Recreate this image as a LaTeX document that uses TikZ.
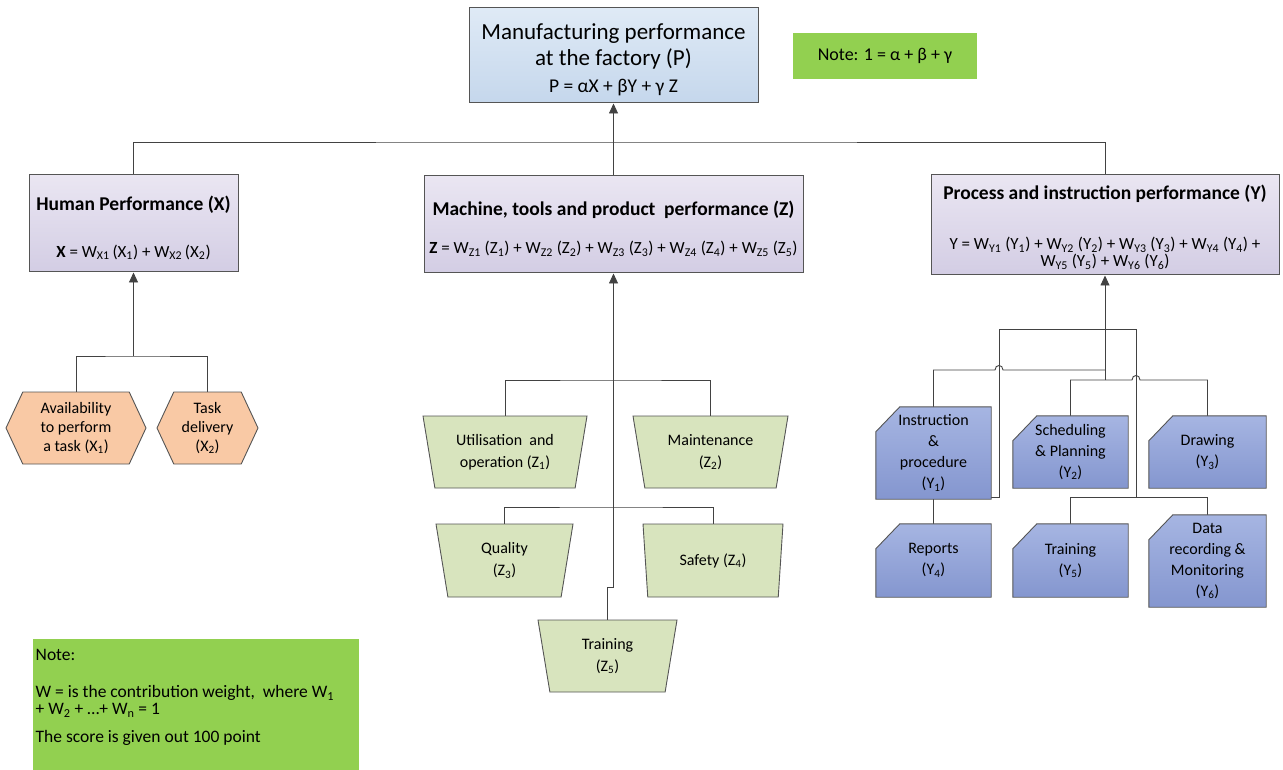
\documentclass[tikz,border=0pt]{standalone}
\usepackage{fontspec}
\setmainfont{Carlito}
\usetikzlibrary{shapes.geometric,shapes.symbols,arrows.meta,backgrounds}
\newcommand\sbs[1]{\textsubscript{#1}}
\newcommand\ttl[2][23pt]{\rule{0pt}{#1}{\fontsize{19.5}{17}\selectfont\bfseries #2}}
\definecolor{linegray}{RGB}{66,66,66}
\definecolor{edgegray}{RGB}{85,85,85}
\definecolor{ptop}{RGB}{223,234,246}
\definecolor{pbot}{RGB}{197,215,236}
\definecolor{ltop}{RGB}{234,230,242}
\definecolor{lbot}{RGB}{211,205,228}
\definecolor{notegreen}{RGB}{146,208,80}
\definecolor{hexfill}{RGB}{249,201,165}
\definecolor{trapfill}{RGB}{216,228,190}
\definecolor{ytop}{RGB}{166,181,226}
\definecolor{ybot}{RGB}{132,150,207}
\begin{document}
\begin{tikzpicture}[x=1pt,y=-1pt,
  line/.style={draw=linegray,line width=0.9pt},
  arr/.style={line,-{Triangle[length=10pt,width=9pt]}},
  pbox/.style={rectangle,draw=edgegray,line width=1pt,top color=ptop,bottom color=pbot,
    minimum width=289pt,minimum height=95pt,inner sep=0pt,align=center,
    font=\fontsize{19.5}{26}\selectfont},
  catbox/.style={rectangle,draw=edgegray,line width=1pt,top color=ltop,bottom color=lbot,
    inner sep=0pt,align=center,font=\fontsize{17}{17}\selectfont},
  notebox/.style={rectangle,fill=notegreen,inner sep=0pt},
  hexa/.style={signal,signal to=west and east,signal pointer angle=130,draw=edgegray,
    line width=0.9pt,fill=hexfill,minimum height=72pt,inner sep=0pt,align=center,
    font=\fontsize{16}{19}\selectfont},
  trap/.style={trapezium,shape border rotate=180,trapezium stretches body=true,
    trapezium left angle=71.6,trapezium right angle=71.6,draw=edgegray,line width=0.9pt,
    fill=trapfill,minimum height=72pt,inner sep=0pt,align=center,
    font=\fontsize{16}{22}\selectfont},
  yslot/.style={rectangle,inner sep=0pt,align=center,font=\fontsize{16}{21}\selectfont},
  yshape/.style={draw=edgegray,line width=0.9pt,top color=ytop,bottom color=ybot},
]
\useasboundingbox (0,0) rectangle (1283,770);

% top level
\node[pbox] (p) at (613.5,55.5)
  {\rule{0pt}{24pt}{\fontsize{23}{26}\selectfont Manufacturing performance}\\
   {\fontsize{23}{26}\selectfont at the factory (P)}\\[1pt]
   P = αX + βY + γ Z};
\node[notebox,minimum width=184pt,minimum height=46pt,font=\fontsize{18}{20}\selectfont]
  (n1) at (885,56) {Note: 1 = α + β + γ};

% the three performance groups
\node[catbox,minimum width=209pt,minimum height=97pt] (hx) at (133.5,223.5)
  {\ttl{Human Performance (X)}\\[30pt]
   \textbf{X} = W\sbs{X1}\,(X\sbs{1}) + W\sbs{X2}\,(X\sbs{2})};
\node[catbox,minimum width=379pt,minimum height=97pt] (hz) at (613.5,224.5)
  {\ttl{Machine, tools and product\ \ performance (Z)}\\[21pt]
   \textbf{Z} = W\sbs{Z1} (Z\sbs{1}) + W\sbs{Z2} (Z\sbs{2}) + W\sbs{Z3} (Z\sbs{3}) + W\sbs{Z4} (Z\sbs{4}) + W\sbs{Z5} (Z\sbs{5})};
\node[catbox,minimum width=348pt,minimum height=100pt] (hy) at (1105,225)
  {\ttl[18.5pt]{Process and instruction performance (Y)}\\[33.5pt]
   Y = W\sbs{Y1} (Y\sbs{1}) + W\sbs{Y2} (Y\sbs{2}) + W\sbs{Y3} (Y\sbs{3}) + W\sbs{Y4} (Y\sbs{4}) +\\
   W\sbs{Y5} (Y\sbs{5}) + W\sbs{Y6} (Y\sbs{6})};

% human factors
\node[hexa,minimum width=140pt] (x1) at (76,428) {Availability\\to perform\\a task (X\sbs{1})};
\node[hexa,minimum width=101pt] (x2) at (207.5,428) {Task\\delivery\\(X\sbs{2})};

% machine factors
\node[trap,minimum width=164pt] (z1) at (505,452) {Utilisation\ \ and\\operation (Z\sbs{1})};
\node[trap,minimum width=155pt] (z2) at (710.5,452) {Maintenance\\(Z\sbs{2})};
\node[trap,minimum width=137pt,minimum height=73pt] (z3) at (504.5,560.5) {Quality\\(Z\sbs{3})};
\node[trap,minimum width=140pt,minimum height=73pt] (z4) at (713,560.5) {Safety (Z\sbs{4})};
\node[trap,minimum width=139pt] (z5) at (607.5,656) {Training\\(Z\sbs{5})};

% process factors
\node[yslot,minimum width=115pt,minimum height=92pt] (y1) at (933.5,453) {Instruction\\\&\\procedure\\(Y\sbs{1})};
\node[yslot,minimum width=115pt,minimum height=72pt] (y2) at (1070.5,452) {Scheduling\\\& Planning\\(Y\sbs{2})};
\node[yslot,minimum width=117pt,minimum height=72pt] (y3) at (1207.5,452) {Drawing\\(Y\sbs{3})};
\node[yslot,minimum width=115pt,minimum height=73pt] (y4) at (933.5,560.5) {Reports\\(Y\sbs{4})};
\node[yslot,minimum width=115pt,minimum height=73pt] (y5) at (1070.5,560.5) {Training\\(Y\sbs{5})};
\node[yslot,minimum width=117pt,minimum height=92pt] (y6) at (1207.5,561) {Data\\recording \&\\Monitoring\\(Y\sbs{6})};

% explanatory note
\node[notebox,anchor=north west,minimum width=326pt,minimum height=132pt] (n2) at (33,639) {};
\node[anchor=north west,inner sep=0pt,align=left,font=\fontsize{17.5}{17.3}\selectfont]
  (n2t) at (35.5,649)
  {Note:\\[19.7pt]
   W = is the contribution weight,\ \ where W\sbs{1}\\
   + W\sbs{2} + …+ W\sbs{n} = 1\\[10.7pt]
   The score is given out 100 point};

% junction points
\coordinate (pb) at (613.5,142);
\coordinate (xb) at (133.5,356);
\coordinate (zb1) at (613.5,380);
\coordinate (zb2) at (613.5,507);
\coordinate (zj) at (613.5,587);
\coordinate (yt) at (1105,380);
\coordinate (ya1) at (999,329);
\coordinate (ya2) at (1136,329);
\coordinate (yh1) at (995,370);
\coordinate (yh1e) at (1003,370);
\coordinate (yt1) at (1105,370);
\coordinate (yh2) at (1132,380);
\coordinate (yh2e) at (1140,380);
\coordinate (yc4) at (999,497.5);
\coordinate (yb) at (1136,497.5);

\begin{pgfonlayer}{background}
  % overall performance
  \draw[line] (hx.north) |- (pb) -| (hy.north);
  \draw[line] (hz.north) -- (pb);
  \draw[arr] (pb) -- (p.south);
  % human
  \draw[line] (x1.north) |- (xb) -| (x2.north);
  \draw[arr] (xb) -- (hx.south);
  % machine
  \draw[line] (z1.north) |- (zb1) -| (z2.north);
  \draw[line] (z3.north) |- (zb2) -| (z4.north);
  \draw[arr] (z5.north) |- (zj) -- (hz.south);
  % process
  \draw[arr] (yt) -- (hy.south);
  \draw[line] (ya1) -- (ya2);
  \draw[line] (y1.north) |- (yh1) .. controls (995,364) and (1003,364) .. (yh1e) -- (yt1);
  \draw[line] (y2.north) |- (yh2) .. controls (1132,374) and (1140,374) .. (yh2e) -| (y3.north);
  \draw[line] (y4.north) |- (yc4) -- (ya1);
  \draw[line] (y5.north) |- (yb) -| (y6.north);
  \draw[line] (yb) -- (ya2);
  % process boxes with a cut corner
  \foreach \n in {y1,y2,y3,y4,y5,y6}
    \path[yshape] ([yshift=-25pt]\n.north west) -- ([xshift=24pt]\n.north west)
      -- (\n.north east) -- (\n.south east) -- (\n.south west) -- cycle;
\end{pgfonlayer}
\end{tikzpicture}
\end{document}
